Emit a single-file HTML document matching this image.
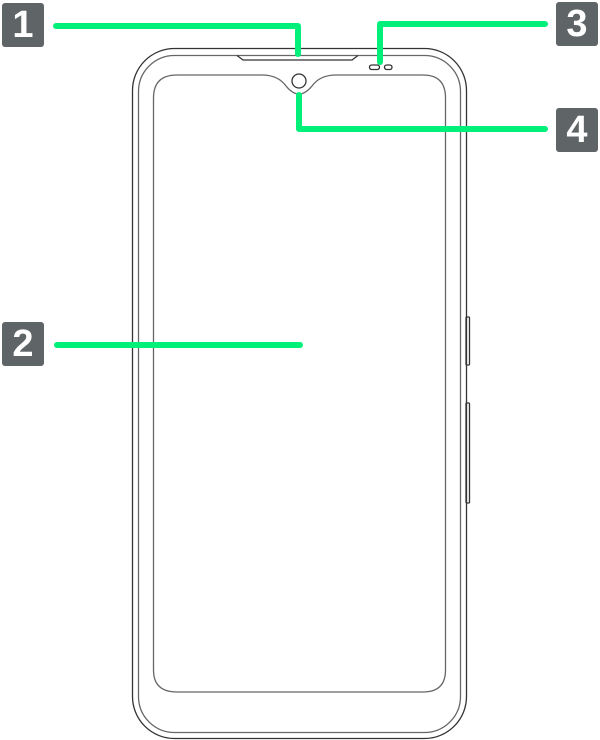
<!DOCTYPE html>
<html><head><style>
html,body{margin:0;padding:0;background:#fff;width:600px;height:740px;overflow:hidden}
.l{position:absolute;width:42px;height:44px;background:#5f6466;border-radius:3px;color:#fff;font:bold 38px/44px "Liberation Sans",sans-serif;text-align:center}
</style></head><body>
<svg width="600" height="740" style="position:absolute;left:0;top:0">
<g fill="none" stroke="#333" stroke-width="1.3">
<rect x="132.5" y="48.5" width="334" height="690" rx="42"/>
<rect x="138.5" y="55.5" width="322" height="677" rx="36" stroke="#666"/>
<path d="M153.5 98 Q153.5 75 177 75 L262 75 Q278 75 286 86 Q299 102 312 86 Q320 75 336 75 L423 75 Q445.5 75 445.5 98 L445.5 670 Q445.5 692 423 692 L177 692 Q153.5 692 153.5 670 Z" stroke="#666"/>
<path d="M237 55.5 L243 60 L352 60 L358 55.5"/>
<circle cx="299" cy="81" r="7"/>
<rect x="369.5" y="65" width="10" height="4.5" rx="2.2"/>
<rect x="384.5" y="65" width="7.5" height="4.5" rx="2.2"/>
<rect x="466" y="317" width="3.5" height="48" rx="1"/>
<rect x="466" y="403" width="3.5" height="100" rx="1"/>
</g>
<g fill="none" stroke="#00f07a" stroke-width="6" stroke-linecap="round" stroke-linejoin="round">
<path d="M56 26 L298 26 L298 54"/>
<path d="M545 24 L380 24 L380 62"/>
<path d="M299 95 L299 129 L545 129"/>
<path d="M57 345 L300 345"/>
</g>
</svg>
<div class="l" style="left:2px;top:3px">1</div>
<div class="l" style="left:2px;top:322px">2</div>
<div class="l" style="left:556px;top:2px">3</div>
<div class="l" style="left:556px;top:108px">4</div>
</body></html>
